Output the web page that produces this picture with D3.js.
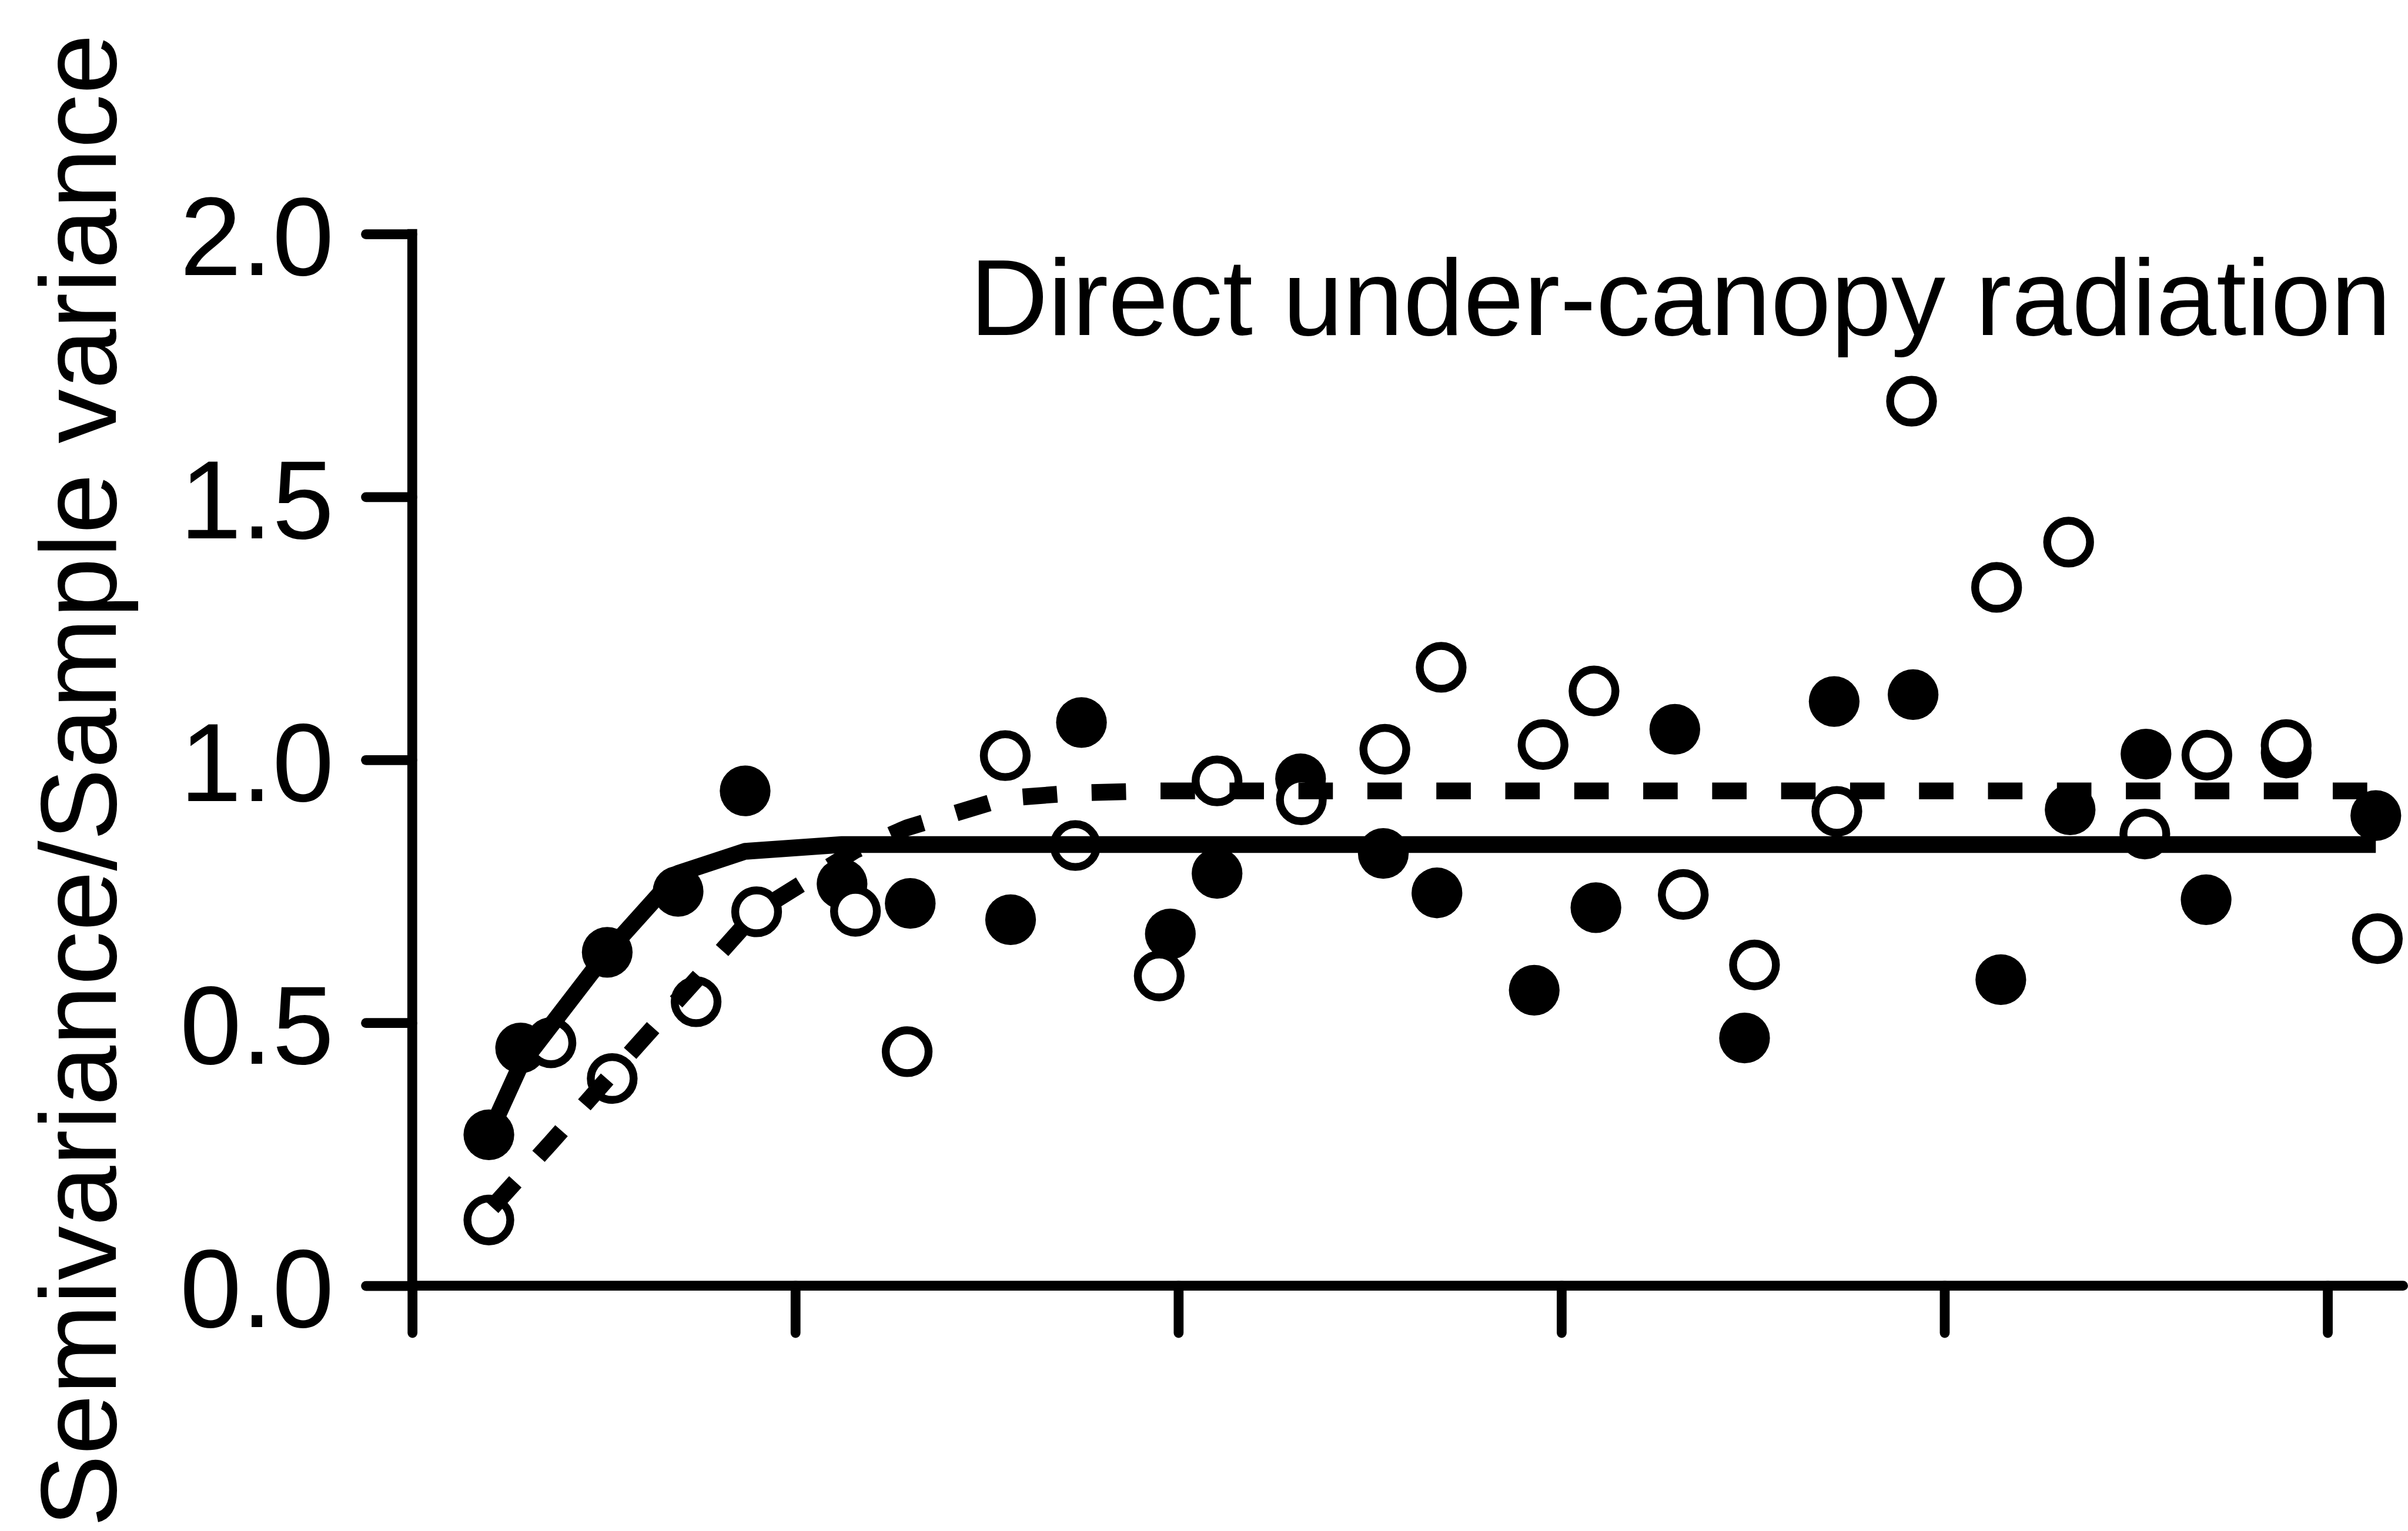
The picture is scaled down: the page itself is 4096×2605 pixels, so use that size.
<!DOCTYPE html>
<html>
<head>
<meta charset="utf-8">
<script src="https://cdn.jsdelivr.net/npm/d3@7"></script>
<style>
  html, body { margin: 0; padding: 0; background: #fff; }
  svg { display: block; }
  text { font-family: "Liberation Sans", Arial, Helvetica, sans-serif; fill: #000; }
</style>
</head>
<body>
<svg id="chart"></svg>
<script>
// values (lag distance in tick units, semivariance ratio)
const filledLag = [0.20, 0.283, 0.509, 0.694, 0.869, 1.122, 1.300, 1.562, 1.747, 1.979, 2.101, 2.319, 2.535,
  2.675, 2.929, 3.090, 3.296, 3.478, 3.712, 3.918, 4.147, 4.328, 4.526, 4.683, 4.892, 5.126];
const filledVal = [0.287, 0.452, 0.634, 0.750, 0.941, 0.764, 0.727, 0.696, 1.071, 0.669, 0.784, 0.964, 0.822,
  0.747, 0.562, 0.719, 1.058, 0.471, 1.111, 1.124, 0.582, 0.905, 1.011, 0.734, 1.013, 0.894];
// fitted model for the filled series (solid line), at the same lags
const solidFit = [0.287, 0.420, 0.634, 0.784, 0.826, 0.839, 0.839, 0.839, 0.839, 0.839, 0.839, 0.839, 0.839,
  0.839, 0.839, 0.839, 0.839, 0.839, 0.839, 0.839, 0.839, 0.839, 0.839, 0.839, 0.839, 0.839];

const openLag = [0.20, 0.362, 0.522, 0.741, 0.899, 1.157, 1.292, 1.548, 1.731, 1.950, 2.101, 2.321, 2.539,
  2.686, 2.952, 3.085, 3.318, 3.504, 3.719, 3.914, 4.136, 4.324, 4.523, 4.685, 4.892, 5.130];
const openVal = [0.125, 0.462, 0.394, 0.540, 0.711, 0.712, 0.445, 1.008, 0.837, 0.589, 0.960, 0.924, 1.020,
  1.176, 1.029, 1.131, 0.744, 0.610, 0.902, 1.682, 1.328, 1.414, 0.859, 1.009, 1.029, 0.660];
// fitted model for the open series (dashed line)
const dashFit = [0.142, 0.272, 0.404, 0.582, 0.711, 0.828, 0.871, 0.927, 0.937, 0.941, 0.941, 0.941, 0.941,
  0.941, 0.941, 0.941, 0.941, 0.941, 0.941, 0.941, 0.941, 0.941, 0.941, 0.941, 0.941, 0.941];

const yTicks = [0, 0.5, 1.0, 1.5, 2.0];
const xTicks = [0, 1, 2, 3, 4, 5];
const titleText = "Direct under-canopy radiation";
const yLabelText = "Semivariance/Sample variance";

// drawn in reference pixels, viewBox shrinks to the window
const config = {
  width: 4889,
  height: 3109,
  outWidth: 4096,
  outHeight: 2605,
  plot: { left: 837, right: 4889, top: 475, bottom: 2611 },
  axisWidth: 20,
  lineWidth: 34,
  fontSize: 225
};

const svg = d3.select("#chart")
  .attr("width", config.outWidth)
  .attr("height", config.outHeight)
  .attr("viewBox", `0 0 ${config.width} ${config.height}`);

svg.append("rect")
  .attr("width", config.width)
  .attr("height", config.height)
  .attr("fill", "#fff");

const x = d3.scaleLinear().domain([0, 5.21]).range([config.plot.left, config.plot.right]);
const y = d3.scaleLinear().domain([0, 2]).range([config.plot.bottom, config.plot.top]);

// y axis
const gy = svg.append("g")
  .attr("transform", `translate(${x(0)},0)`)
  .call(d3.axisLeft(y)
    .tickValues(yTicks)
    .tickFormat(d3.format(".1f"))
    .tickSize(94)
    .tickSizeOuter(0)
    .tickPadding(65))
  .attr("font-family", null)
  .attr("font-size", null);
gy.select(".domain").remove();
gy.append("line")
  .attr("y1", y(0))
  .attr("y2", y(2))
  .attr("stroke", "#000")
  .attr("stroke-width", config.axisWidth)
  .attr("stroke-linecap", "square");
gy.selectAll(".tick line")
  .attr("stroke", "#000")
  .attr("stroke-width", config.axisWidth)
  .attr("stroke-linecap", "round");
gy.selectAll(".tick text")
  .attr("font-size", config.fontSize)
  .attr("dy", "0.37em");

// x axis, ticks only
const gx = svg.append("g")
  .attr("transform", `translate(0,${y(0)})`)
  .call(d3.axisBottom(x)
    .tickValues(xTicks)
    .tickFormat("")
    .tickSize(96)
    .tickSizeOuter(0));
gx.select(".domain").remove();
gx.append("line")
  .attr("x1", x(0))
  .attr("x2", x.range()[1] - config.axisWidth / 2)
  .attr("stroke", "#000")
  .attr("stroke-width", config.axisWidth)
  .attr("stroke-linecap", "round");
gx.selectAll(".tick line")
  .attr("stroke", "#000")
  .attr("stroke-width", config.axisWidth)
  .attr("stroke-linecap", "round");

// markers
svg.append("g")
  .selectAll("circle")
  .data(d3.zip(filledLag, filledVal))
  .join("circle")
  .attr("cx", d => x(d[0]))
  .attr("cy", d => y(d[1]))
  .attr("r", 51.5)
  .attr("fill", "#000");

svg.append("g")
  .selectAll("circle")
  .data(d3.zip(openLag, openVal))
  .join("circle")
  .attr("cx", d => x(d[0]))
  .attr("cy", d => y(d[1]))
  .attr("r", 43.5)
  .attr("fill", "#fff")
  .attr("stroke", "#000")
  .attr("stroke-width", 16);

// fitted models
const line = d3.line().x(d => x(d[0])).y(d => y(d[1]));

svg.append("path")
  .datum(d3.zip(filledLag, solidFit))
  .attr("d", line)
  .attr("fill", "none")
  .attr("stroke", "#000")
  .attr("stroke-width", config.lineWidth)
  .attr("stroke-linejoin", "round");

svg.append("path")
  .datum(d3.zip(openLag, dashFit))
  .attr("d", line)
  .attr("fill", "none")
  .attr("stroke", "#000")
  .attr("stroke-width", config.lineWidth)
  .attr("stroke-dasharray", "70,70")
  .attr("stroke-dashoffset", -10);

// title inside the panel
svg.append("text")
  .attr("x", 1969)
  .attr("y", 680)
  .attr("font-size", 220)
  .text(titleText);

// y axis label
svg.append("text")
  .attr("transform", "translate(235,1585) rotate(-90)")
  .attr("text-anchor", "middle")
  .attr("font-size", 220)
  .text(yLabelText);
</script>
</body>
</html>
